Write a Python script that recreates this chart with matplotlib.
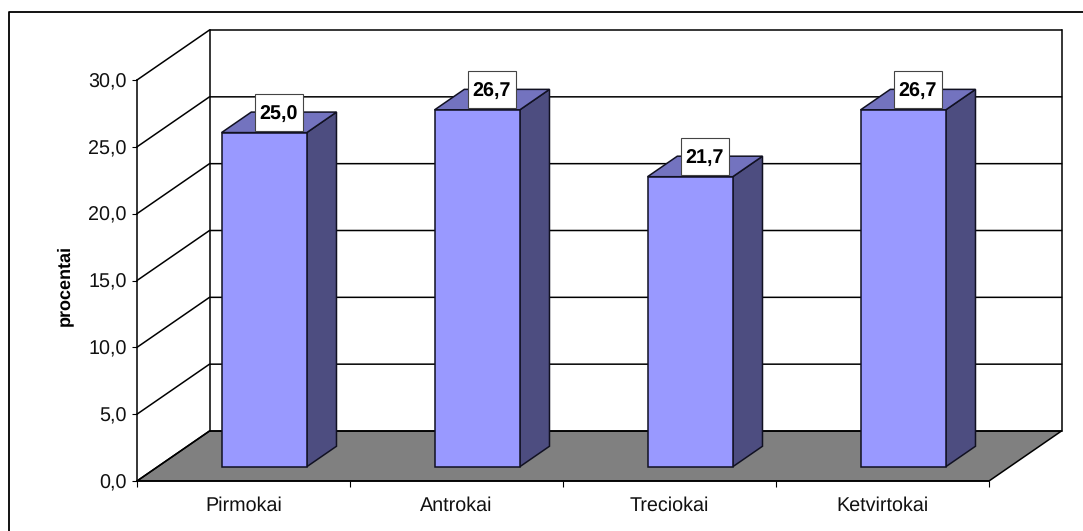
import matplotlib
matplotlib.use("Agg")
import matplotlib.pyplot as plt
from matplotlib.patches import Polygon, Rectangle

plt.rcParams['font.family'] = ['Liberation Sans', 'DejaVu Sans']
plt.rcParams['text.hinting'] = 'none'

categories = ["Pirmokai", "Antrokai", "Treciokai", "Ketvirtokai"]
values = [25.0, 26.7, 21.7, 26.7]
y_ticks = [0, 5, 10, 15, 20, 25, 30]
y_tick_labels = ["0,0", "5,0", "10,0", "15,0", "20,0", "25,0", "30,0"]
value_labels = ["25,0", "26,7", "21,7", "26,7"]

W, H = 1083, 531
# chart frame in pixels
left, right, bottom, top = 137, 989, 481, 80
px_x = (right - left) / len(categories)
px_y = (bottom - top) / 30.0
# oblique depth of the floor, as data units at z=1
depth_x = 72.5 / px_x
depth_y = 50.0 / px_y

bar_w = 0.40
z_front, z_back = 0.285, 0.695
lw = 1.1


def proj(x, y, z=0.0):
    return x + z * depth_x, y + z * depth_y


fig = plt.figure(figsize=(W / 100, H / 100), dpi=100)
ax = fig.add_axes([left / W, 1 - bottom / H, (right - left) / W, (bottom - top) / H])
ax.patch.set_alpha(0)
ax.set_xlim(0, len(categories))
ax.set_ylim(0, 30)

# outer border, right and bottom sides are cut off by the image
fig.add_artist(plt.Line2D([8.5 / W, 8.5 / W, 1], [0, 1 - 12 / H, 1 - 12 / H],
                          color="black", lw=1.3, transform=fig.transFigure))

# floor
n = len(categories)
floor = [proj(0, 0), proj(n, 0), proj(n, 0, 1), proj(0, 0, 1)]
ax.add_patch(Polygon(floor, closed=True, fc="#808080", ec="black", lw=lw, zorder=1, clip_on=False))

# walls and gridlines
for v in y_ticks:
    ax.plot(*zip(proj(0, v), proj(0, v, 1), proj(n, v, 1)), color="black", lw=lw, zorder=2, clip_on=False)
ax.plot(*zip(proj(0, 0, 1), proj(0, 30, 1)), color="black", lw=lw, zorder=2, clip_on=False)
ax.plot(*zip(proj(n, 0, 1), proj(n, 30, 1)), color="black", lw=lw, zorder=2, clip_on=False)

# bars
for i, v in enumerate(values):
    x0 = i + 0.5 - bar_w / 2
    x1 = i + 0.5 + bar_w / 2
    side = [proj(x1, 0, z_front), proj(x1, 0, z_back), proj(x1, v, z_back), proj(x1, v, z_front)]
    roof = [proj(x0, v, z_front), proj(x1, v, z_front), proj(x1, v, z_back), proj(x0, v, z_back)]
    front = [proj(x0, 0, z_front), proj(x1, 0, z_front), proj(x1, v, z_front), proj(x0, v, z_front)]
    ax.add_patch(Polygon(side, closed=True, fc="#4D4D80", ec="#111122", lw=lw, zorder=3, clip_on=False))
    ax.add_patch(Polygon(roof, closed=True, fc="#7373BF", ec="#111122", lw=lw, zorder=3, clip_on=False))
    ax.add_patch(Polygon(front, closed=True, fc="#9999FF", ec="#111122", lw=lw, zorder=4, clip_on=False))

    # value label box
    cx, cy = proj(i + 0.5, v, (z_front + z_back) / 2)
    cy += 10 / px_y
    box_w = 48 / px_x
    box_h = 37 / px_y
    ax.add_patch(Rectangle((cx - box_w / 2, cy - box_h / 2), box_w, box_h, fc="white", ec="#444444",
                           lw=0.8, zorder=5, clip_on=False))
    ax.text(cx, cy, value_labels[i], ha="center", va="center_baseline", fontsize=14.2, fontweight="bold",
            color="black", zorder=6)

# axes
for s in ("top", "right"):
    ax.spines[s].set_visible(False)
for s in ("left", "bottom"):
    ax.spines[s].set_linewidth(lw)
    ax.spines[s].set_zorder(7)
ax.set_yticks(y_ticks)
ax.set_yticklabels(y_tick_labels, fontsize=14.2, color="#111111")
ax.tick_params(axis="y", length=3.5, width=0.8, pad=4)
ax.set_xticks(range(n + 1))
ax.set_xticklabels([])
ax.tick_params(axis="x", which="major", length=4, width=0.8)
ax.set_xticks([i + 0.5 for i in range(n)], minor=True)
ax.set_xticklabels(categories, minor=True, fontsize=14.2, color="#111111")
ax.tick_params(axis="x", which="minor", length=0, pad=11)
ax.set_ylabel("procentai", fontsize=13, fontweight="bold", color="black", labelpad=0)
ax.yaxis.set_label_coords((73 - left) / (right - left), (bottom - 285) / (bottom - top))

fig.savefig("out.png", dpi=100)
